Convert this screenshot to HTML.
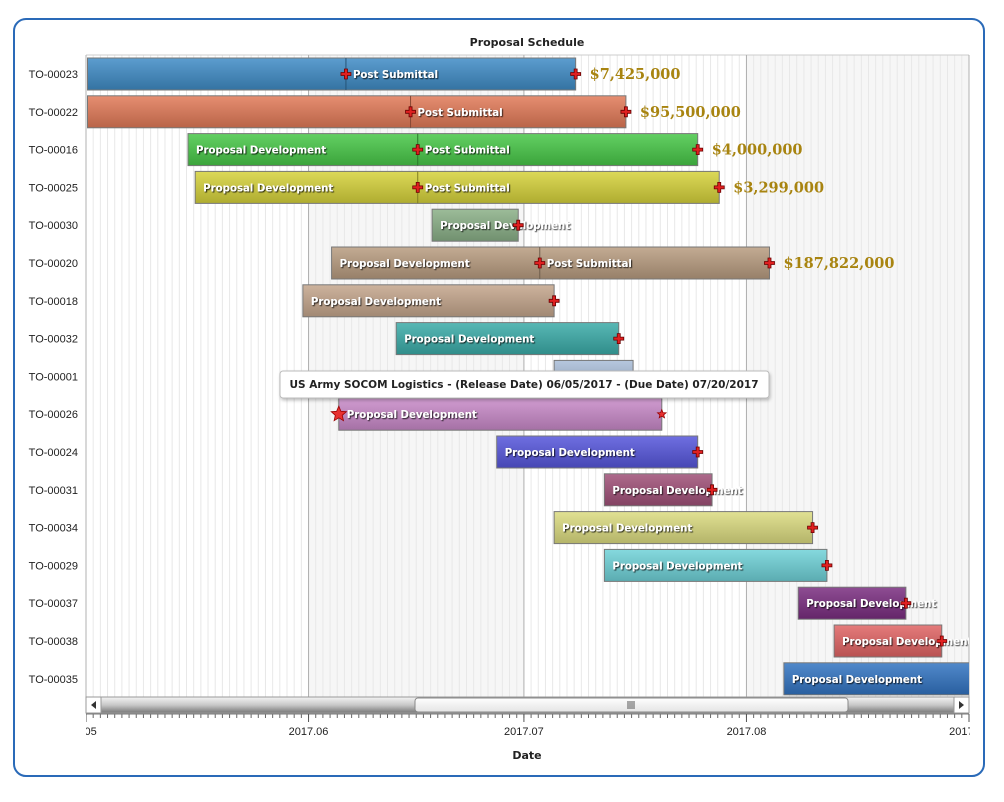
<!DOCTYPE html>
<html><head><meta charset="utf-8"><style>
html,body{margin:0;padding:0;background:#fff;}
svg{display:block;}
</style></head><body>
<svg id="chart" width="1004" height="802" viewBox="0 0 1004 802" xmlns="http://www.w3.org/2000/svg">
<defs>
<linearGradient id="scrollG" x1="0" y1="0" x2="0" y2="1"><stop offset="0" stop-color="#f4f4f4"/><stop offset="0.5" stop-color="#c8c8c8"/><stop offset="1" stop-color="#777"/></linearGradient>
<linearGradient id="thumbG" x1="0" y1="0" x2="0" y2="1"><stop offset="0" stop-color="#ffffff"/><stop offset="1" stop-color="#e4e4e4"/></linearGradient>
<filter id="sh" x="-5%" y="-20%" width="110%" height="160%"><feDropShadow dx="1" dy="2" stdDeviation="1.5" flood-color="#000" flood-opacity="0.25"/></filter>
<filter id="ts"><feDropShadow dx="1" dy="1" stdDeviation="0.4" flood-color="#000" flood-opacity="0.8"/></filter>
<clipPath id="plotClip"><rect x="86" y="55" width="883" height="642"/></clipPath>
<clipPath id="axClip"><rect x="86" y="700" width="884" height="50"/></clipPath>
</defs>
<rect x="14" y="19" width="970" height="757" rx="12" fill="#fff" stroke="#2a6ab8" stroke-width="2"/>
<text x="527" y="46" text-anchor="middle" font-family="'DejaVu Sans',sans-serif" font-weight="bold" font-size="11" fill="#222">Proposal Schedule</text>
<g id="grid"></g>
<g id="bars" clip-path="url(#plotClip)"></g>
<g id="ylabels"></g>
<g id="axis" clip-path="url(#axClip)"></g>
<g filter="url(#sh)">
<rect x="280" y="371" width="489" height="27" rx="3" fill="#fff" stroke="#bbb"/>
</g>
<text x="524" y="388" text-anchor="middle" font-family="'DejaVu Sans',sans-serif" font-weight="bold" font-size="10.5" fill="#222">US Army SOCOM Logistics - (Release Date) 06/05/2017 - (Due Date) 07/20/2017</text>
<g>
<rect x="86" y="697" width="883" height="16" fill="url(#scrollG)" stroke="#999"/>
<rect x="86" y="697" width="15" height="16" fill="#fff" stroke="#999"/>
<path d="M96 701 L91 705 L96 709 Z" fill="#333"/>
<rect x="954" y="697" width="15" height="16" fill="#fff" stroke="#999"/>
<path d="M959 701 L964 705 L959 709 Z" fill="#333"/>
<rect x="415" y="698" width="433" height="14" rx="3" fill="url(#thumbG)" stroke="#888"/>
<path d="M628 701v8M630 701v8M632 701v8M634 701v8" stroke="#555" stroke-width="1"/>
</g>
<text x="527" y="759" text-anchor="middle" font-family="'DejaVu Sans',sans-serif" font-weight="bold" font-size="11" fill="#222">Date</text>
</svg>
<script>
const rowNames=["TO-00023","TO-00022","TO-00016","TO-00025","TO-00030","TO-00020","TO-00018","TO-00032","TO-00001","TO-00026","TO-00024","TO-00031","TO-00034","TO-00029","TO-00037","TO-00038","TO-00035"];
const startDates=["2017-05-01","2017-05-01","2017-05-15","2017-05-16","2017-06-18","2017-06-04","2017-05-31","2017-06-13","2017-07-05","2017-06-05","2017-06-27","2017-07-12","2017-07-05","2017-07-12","2017-08-08","2017-08-13","2017-08-06"];
const milestoneDates=["2017-06-06","2017-06-15","2017-06-16","2017-06-16",null,"2017-07-03",null,null,null,null,null,null,null,null,null,null,null];
const endDates=["2017-07-08","2017-07-15","2017-07-25","2017-07-28","2017-06-30","2017-08-04","2017-07-05","2017-07-14","2017-07-16","2017-07-20","2017-07-25","2017-07-27","2017-08-10","2017-08-12","2017-08-23","2017-08-28","2017-09-10"];
const firstLabels=["","","Proposal Development","Proposal Development","Proposal Development","Proposal Development","Proposal Development","Proposal Development","","Proposal Development","Proposal Development","Proposal Development","Proposal Development","Proposal Development","Proposal Development","Proposal Development","Proposal Development"];
const amounts=["$7,425,000","$95,500,000","$4,000,000","$3,299,000","","$187,822,000","","","","","","","","","","",""];
const tickLabels=["7.05","2017.06","2017.07","2017.08","2017.09"];
const tickDates=["2017-05-01","2017-06-01","2017-07-01","2017-08-01","2017-09-01"];
const colors=["#3f8cc6","#e27a58","#48c848","#d6d23a","#8ab087","#b89c80","#c4a68c","#3aaca8","#a9bdd8","#c98ac9","#5656dc","#a05078","#dcdc80","#6fd2d8","#7a2d80","#e06464","#3274c2"];
const starRows=[9];
const noEndMarker=[8,16];

const X0=86,X1=969,PY0=55,PY1=697,BAR_SHIFT=1.5;
const D0=Date.UTC(2017,4,1),D1=Date.UTC(2017,8,1);
function dayOf(s){const p=s.split('-');return Date.UTC(+p[0],+p[1]-1,+p[2]);}
function xs(s){return X0+(dayOf(s)-D0)/(D1-D0)*(X1-X0);}
function xb_(s){return xs(s)+BAR_SHIFT;}
function ys(i){return 74+i*37.8;}
const NS="http://www.w3.org/2000/svg";
function mk(tag,attrs,parent){const e=document.createElementNS(NS,tag);for(const k in attrs)e.setAttribute(k,attrs[k]);parent.appendChild(e);return e;}
function shade(hex,f){let n=parseInt(hex.slice(1),16);let r=n>>16,g=(n>>8)&255,b=n&255;
 const c=v=>Math.max(0,Math.min(255,Math.round(f>0?v+(255-v)*f:v*(1+f))));return `rgb(${c(r)},${c(g)},${c(b)})`;}
const defs=document.querySelector('defs');
const grid=document.getElementById('grid'),bars=document.getElementById('bars'),ylab=document.getElementById('ylabels'),axis=document.getElementById('axis');

for(let m=0;m<tickDates.length-1;m++){
 const xa=xs(tickDates[m]),xb=xs(tickDates[m+1]);
 const r=mk('rect',{x:xa,y:PY0,width:xb-xa,height:PY1-PY0,fill:m%2?'#f6f6f6':'#fff'},grid);
 
 
}
const nDays=(D1-D0)/86400000;
for(let d=0;d<=nDays;d++){
 const x=X0+d/nDays*(X1-X0);
 const l=mk('line',{x1:x,x2:x,y1:PY0,y2:PY1,stroke:'#e8e8e8','stroke-width':1},grid);
 
 
 const t=mk('line',{x1:x,x2:x,y1:714,y2:718,stroke:'#666','stroke-width':1},axis);
 
 
}
mk('line',{x1:X0,x2:X1,y1:PY0,y2:PY0,stroke:'#ccc'},grid);
mk('line',{x1:X0,x2:X0,y1:PY0,y2:PY1,stroke:'#888'},grid);
mk('line',{x1:X0,x2:X1,y1:714,y2:714,stroke:'#777'},axis);
tickDates.forEach((t,i)=>{
 const x=xs(t);
 const g=mk('line',{x1:x,x2:x,y1:PY0,y2:PY1,stroke:'#b0b0b0'},grid);
 
 
 mk('line',{x1:x,x2:x,y1:714,y2:722,stroke:'#555'},axis);
 const tx=mk('text',{x:x,y:735,'text-anchor':'middle','font-family':"'Liberation Sans',sans-serif",'font-size':11,fill:'#222'},axis);
 tx.textContent=tickLabels[i];
 
 
});

function plus(x,y,parent){
 const p=mk('path',{d:`M${x-1.5} ${y-5}h3v3.5h3.5v3h-3.5v3.5h-3v-3.5h-3.5v-3h3.5z`,fill:'#e02020',stroke:'#6a0000','stroke-width':0.8},parent);
 
 
}
function star(x,y,r,parent){
 let d='';for(let k=0;k<10;k++){const a=-Math.PI/2+k*Math.PI/5;const rr=k%2?r*0.45:r;d+=(k?'L':'M')+(x+rr*Math.cos(a)).toFixed(1)+' '+(y+rr*Math.sin(a)).toFixed(1);}
 const p=mk('path',{d:d+'Z',fill:'#e83030',stroke:'#900','stroke-width':0.8},parent);
 
 
}
function label(x,y,txt,parent){
 const t=mk('text',{x:x,y:y+4,'font-family':"'DejaVu Sans',sans-serif",'font-weight':'bold','font-size':10.2,fill:'#fff',filter:'url(#ts)'},parent);
 t.textContent=txt;
 
 
}

rowNames.forEach((n,i)=>{
 const cy=ys(i);
 const yl=mk('text',{x:78,y:cy+4,'text-anchor':'end','font-family':"'Liberation Sans',sans-serif",'font-size':11,fill:'#222'},ylab);
 yl.textContent=n;
 
 
 const gid='g'+i;
 const lg=mk('linearGradient',{id:gid,x1:0,y1:0,x2:0,y2:1},defs);
 mk('stop',{offset:0,'stop-color':shade(colors[i],0.15)},lg);
 mk('stop',{offset:1,'stop-color':shade(colors[i],-0.18)},lg);
 const xa=Math.max(X0,xb_(startDates[i])),xb=xb_(endDates[i]);
 const g=mk('g',{},bars);
 
 
 mk('rect',{x:xa,y:cy-16,width:xb-xa,height:32,fill:`url(#${gid})`,stroke:'#777','stroke-width':1},g);
 if(firstLabels[i])label(xa+8,cy,firstLabels[i],g);
 if(milestoneDates[i]){
  const xm=xb_(milestoneDates[i]);
  mk('line',{x1:xm,x2:xm,y1:cy-16,y2:cy+16,stroke:shade(colors[i],-0.4),'stroke-width':1},g);
  plus(xm,cy,g);
  label(xm+7,cy,'Post Submittal',g);
 }
 if(starRows.includes(i)){star(xa,cy,8,g);star(xb,cy,4.5,g);}
 else if(!noEndMarker.includes(i))plus(xb,cy,g);
 if(amounts[i]){
  const a=mk('text',{x:xb+14,y:cy+5,'font-family':"'DejaVu Serif',serif",'font-weight':'bold','font-size':14.5,fill:'#a88410'},g);
  a.textContent=amounts[i];
  
  
 }
});
</script>
</body></html>
